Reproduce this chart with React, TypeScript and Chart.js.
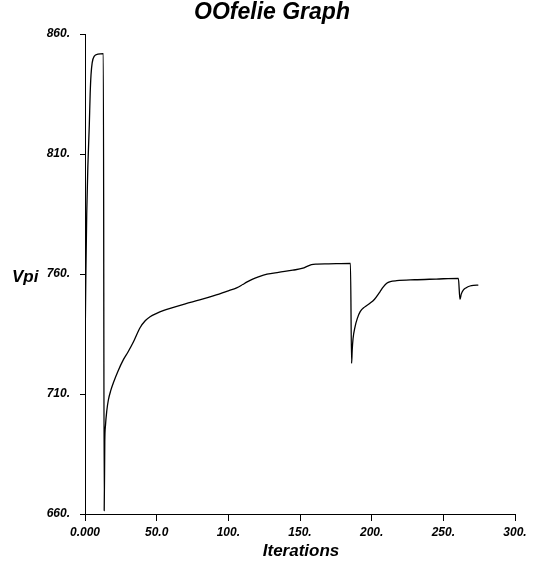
import React, { useEffect, useRef } from "react";
import { Chart, registerables } from "chart.js";

Chart.register(...registerables);

const iterations = [
  0, 0.6, 1.2, 2, 3, 3.6, 4.2, 5, 6.5, 9, 12.8,
  13.4, 13.8, 14.3, 15.2, 16.3, 18, 20, 23, 26.7, 30, 34, 38.4, 42, 45.4, 50, 55, 60, 70, 80, 90, 100,
  105.8, 110, 112.8, 117, 121, 127, 135, 145, 152, 155, 158, 162, 170, 185.2,
  186.0, 186.4, 187, 188.4, 190, 192, 195, 198.8, 202, 205.8, 208, 210.5, 213, 217.5, 230, 245, 260.5,
  261.6, 262.5, 263.9, 266, 268.6, 271, 274.4,
];
const vpi = [
  726, 760, 785, 805, 822, 835, 843, 848, 850.8, 851.6, 851.8,
  661.4, 690, 697, 703, 707.5, 711.5, 715, 719.5, 724.2, 727.5, 732, 737.6, 740.5, 742.2, 743.6, 744.8, 745.8, 747.6, 749.2, 751, 753,
  754.2, 755.6, 756.6, 757.9, 758.8, 759.9, 760.7, 761.6, 762.4, 763.2, 763.9, 764.1, 764.2, 764.4,
  722.8, 728, 733, 738, 741.5, 744.3, 746.2, 747.8, 749.5, 752.6, 754.5, 756.1, 756.8, 757.2, 757.6, 757.9, 758.2,
  749.4, 751.6, 753.3, 754.3, 755, 755.3, 755.4,
];

const xTickValues = [0, 50, 100, 150, 200, 250, 300];
const xTickLabels = ["0.000", "50.0", "100.", "150.", "200.", "250.", "300."];
const yTickValues = [660, 710, 760, 810, 860];
const yTickLabels = ["660.", "710.", "760.", "810.", "860."];

const chartTitle = "OOfelie Graph";
const xTitle = "Iterations";
const yTitle = "Vpi";

const FONT = "'Liberation Sans', Arial, sans-serif";

const textPlugin = {
  id: "customText",
  afterDraw(chart: any) {
    const ctx = chart.ctx;
    ctx.save();
    ctx.fillStyle = "#000";
    ctx.textBaseline = "alphabetic";
    ctx.textAlign = "center";
    ctx.font = `italic bold 23px ${FONT}`;
    ctx.fillText(chartTitle, 272, 19);
    ctx.font = `italic bold 17px ${FONT}`;
    ctx.fillText(xTitle, 301, 556);
    ctx.textAlign = "left";
    ctx.fillText(yTitle, 12, 282);
    ctx.restore();
  },
};

export default function App() {
  const ref = useRef<HTMLCanvasElement>(null);
  useEffect(() => {
    if (!ref.current) return;
    const data = iterations.map((x, i) => ({ x, y: vpi[i] }));
    const tickFont = { family: FONT, size: 12, weight: "bold" as const, style: "italic" as const };
    const chart = new Chart(ref.current, {
      type: "line",
      data: {
        datasets: [
          {
            data,
            borderColor: "#000",
            borderWidth: 1.3,
            pointRadius: 0,
            fill: false,
            cubicInterpolationMode: "monotone",
          },
        ],
      },
      options: {
        animation: false,
        responsive: false,
        events: [],
        layout: { padding: { top: 34, right: 19, left: 0, bottom: 0 } },
        plugins: { legend: { display: false }, title: { display: false }, tooltip: { enabled: false } },
        scales: {
          x: {
            type: "linear",
            min: 0,
            max: 300,
            afterBuildTicks: (s: any) => {
              s.ticks = xTickValues.map((v) => ({ value: v }));
            },
            afterFit: (s: any) => {
              s.height = 48;
            },
            ticks: {
              autoSkip: false,
              maxRotation: 0,
              padding: 4,
              color: "#000",
              font: tickFont,
              callback: (_v: any, i: number) => xTickLabels[i],
            },
            grid: { drawOnChartArea: false, drawTicks: true, tickLength: 7, color: "#000", lineWidth: 1 },
            border: { display: true, color: "#000", width: 1 },
          },
          y: {
            type: "linear",
            min: 660,
            max: 860,
            afterBuildTicks: (s: any) => {
              s.ticks = yTickValues.map((v) => ({ value: v }));
            },
            afterFit: (s: any) => {
              s.width = 85;
            },
            ticks: {
              autoSkip: false,
              padding: 10,
              color: "#000",
              font: tickFont,
              callback: (_v: any, i: number) => yTickLabels[i],
            },
            grid: { drawOnChartArea: false, drawTicks: true, tickLength: 5, color: "#000", lineWidth: 1 },
            border: { display: true, color: "#000", width: 1 },
          },
        },
      },
      plugins: [textPlugin],
    });
    return () => chart.destroy();
  }, []);
  return (
    <div style={{ position: "absolute", left: 0, top: 0, width: 534, height: 562, background: "#fff" }}>
      <canvas ref={ref} width={534} height={562} style={{ width: 534, height: 562 }} />
    </div>
  );
}
